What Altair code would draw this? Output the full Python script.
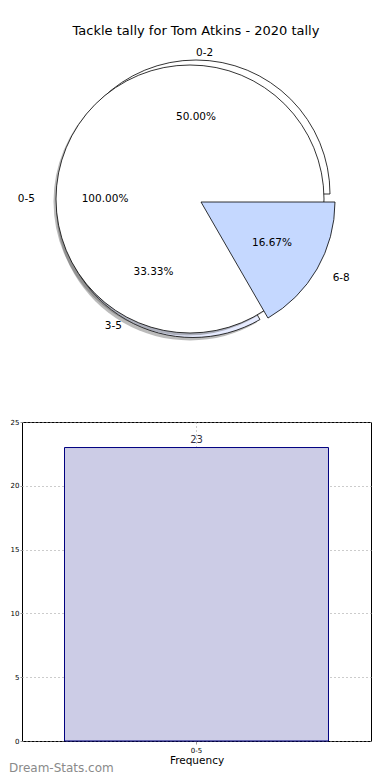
import math
import altair as alt
import pandas as pd

# ---------------- data ----------------
title_text = "Tackle tally for Tom Atkins - 2020 tally"
slice_labels = ["0-2", "6-8", "3-5"]          # clockwise drawing order
slice_values = [50.00, 16.67, 33.33]
slice_order = [1, 2, 3]
total_labels = ["0-5"]
total_values = [100.00]
bar_categories = ["0-5"]
bar_values = [23]
y_ticks = [0, 5, 10, 15, 20, 25]
watermark = ["Dream-Stats.com"]

pie_df = pd.DataFrame({"label": slice_labels, "value": slice_values, "order": slice_order,
                       "pct": [f"{v:.2f}%" for v in slice_values]})
full_df = pd.DataFrame({"label": total_labels, "value": total_values,
                        "pct": [f"{v:.2f}%" for v in total_values]})
bar_df = pd.DataFrame({"cat": bar_categories, "n": bar_values})
wm_df = pd.DataFrame({"t": watermark})
title_df = pd.DataFrame({"t": [title_text]})

FONT = "DejaVu Sans"
R = 134
OX = -2  # horizontal shift of pie panel content
theta_scale = alt.Scale(domain=[0, 100], range=[-math.pi / 2, 3 * math.pi / 2])
full_scale = alt.Scale(domain=[0, 100], range=[math.pi / 2, 5 * math.pi / 2])

stacked = (alt.Chart(pie_df)
           .transform_stack(stack="value", as_=["v0", "v1"], groupby=[],
                            sort=[alt.SortField("order")])
           .transform_calculate(mid="(datum.v0 + datum.v1) / 2"))
full_base = alt.Chart(full_df).transform_calculate(v0="0", v1="datum.value",
                                                   mid="datum.value / 2")


def arc(base, label, scale, cx, cy, **mk):
    return (base.transform_filter(alt.datum.label == label)
            .mark_arc(radius=R, **mk)
            .encode(theta=alt.Theta("v0:Q", scale=scale), theta2="v1:Q",
                    x=alt.value(cx + OX), y=alt.value(cy)))


def label(base, label, scale, field, cx, cy, r, align):
    return (base.transform_filter(alt.datum.label == label)
            .mark_text(radius=r, align=align, baseline="middle", font=FONT,
                       fontSize=10.5, color="black")
            .encode(theta=alt.Theta("mid:Q", scale=scale), text=f"{field}:N",
                    x=alt.value(cx + OX), y=alt.value(cy)))


line = dict(stroke="black", strokeWidth=0.8)
pie_layers = [
    arc(stacked, "3-5", theta_scale, 170, 197.5, fill="#555555", opacity=0.4),
    arc(stacked, "3-5", theta_scale, 173, 194.5, fill="#e6ebff", **line),
    arc(stacked, "0-2", theta_scale, 176, 185, fill="white", **line),
    arc(full_base, "0-5", full_scale, 167.5, 192.5, fill="#555555", opacity=0.4),
    arc(full_base, "0-5", full_scale, 170, 190, fill="white", **line),
    arc(stacked, "6-8", theta_scale, 181, 193, fill="#c5d8ff", **line),
    label(stacked, "0-2", theta_scale, "label", 176, 185, 141, "left"),
    label(stacked, "0-2", theta_scale, "pct", 176, 185, 77, "center"),
    label(stacked, "3-5", theta_scale, "label", 173, 194.5, 142, "right"),
    label(stacked, "3-5", theta_scale, "pct", 173, 194.5, 79, "center"),
    label(stacked, "6-8", theta_scale, "label", 181, 193, 152, "left"),
    label(stacked, "6-8", theta_scale, "pct", 181, 193, 82, "center"),
    label(full_base, "0-5", full_scale, "label", 170, 190, 155, "right"),
    label(full_base, "0-5", full_scale, "pct", 170, 190, 85, "center"),
    alt.Chart(title_df).mark_text(font=FONT, fontSize=13, color="black",
                                  align="center", baseline="middle")
       .encode(text="t:N", x=alt.value(176 + OX), y=alt.value(22)),
]
pie = (alt.layer(*pie_layers)
       .resolve_scale(theta="independent")
       .properties(width=349, height=393,
                   view=alt.ViewBackground(fill="white", stroke="transparent")))

bars = alt.Chart(bar_df).mark_bar(fill="#ccccE6", stroke="#000080", strokeWidth=1).encode(
    x=alt.X("cat:N", title="Frequency",
            scale=alt.Scale(paddingInner=0, paddingOuter=0.161),
            axis=alt.Axis(labelAngle=0, grid=True, gridDash=[1, 3], gridColor="#999999",
                          domain=False, tickSize=3, tickColor="#999999",
                          labelFont=FONT, labelFontSize=7, labelColor="black",
                          labelPadding=2, titleFont=FONT, titleFontSize=10.5,
                          titleFontWeight="normal", titleColor="black", titlePadding=2)),
    y=alt.Y("n:Q", title=None, scale=alt.Scale(domain=[0, 25], nice=False),
            axis=alt.Axis(values=y_ticks, grid=True, gridDash=[1, 3], gridColor="#999999",
                          domain=False, tickSize=2, tickColor="#999999",
                          labelFont=FONT, labelFontSize=7, labelColor="black",
                          labelPadding=1)),
)
bar_text = alt.Chart(bar_df).mark_text(baseline="bottom", dy=-3, font=FONT, fontSize=10,
                                       color="#333344").encode(
    x=alt.X("cat:N"), y=alt.Y("n:Q"), text="n:Q")
wm = alt.Chart(wm_df).mark_text(align="left", baseline="middle", font=FONT, fontSize=12,
                                color="#8a8a8a").encode(
    text="t:N", x=alt.value(-13), y=alt.value(346))
bar = (alt.layer(bars, bar_text, wm)
       .properties(width=349, height=319,
                   view=alt.ViewBackground(stroke="black", strokeWidth=1)))

chart = (alt.vconcat(pie, bar, spacing=20, bounds="flush")
         .properties(padding=0)
         .configure_view(stroke=None))

chart.save("out.html", embed_options={"renderer": "svg", "actions": False})
